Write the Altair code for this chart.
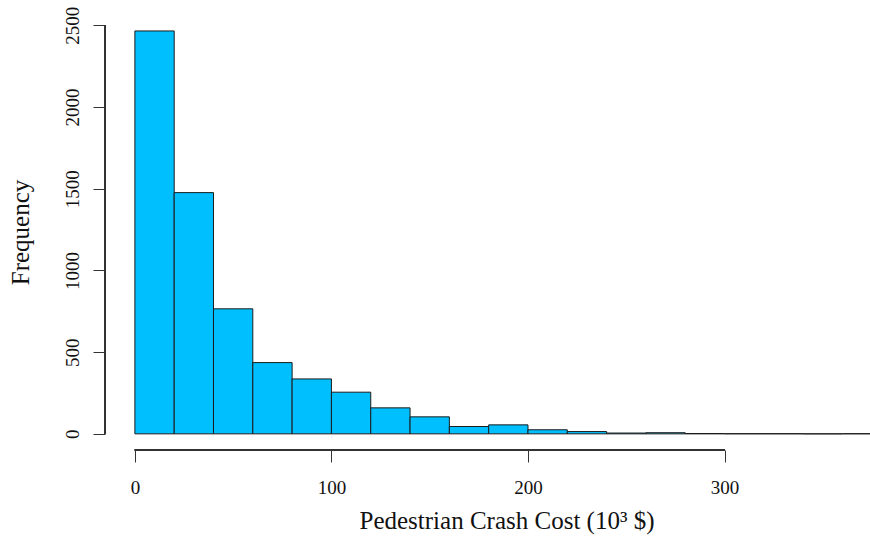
import altair as alt
import pandas as pd

# Histogram bins (10^3 $) and frequencies
bin_start = [0, 20, 40, 60, 80, 100, 120, 140, 160, 180, 200, 220, 240, 260, 280, 300, 320, 340, 360]
bin_width = 20
counts = [2465, 1476, 765, 436, 336, 255, 159, 104, 45, 55, 25, 14, 5, 7, 2, 1, 1, 0, 1]

x_ticks = [0, 100, 200, 300]
y_ticks = [0, 500, 1000, 1500, 2000, 2500]

df = pd.DataFrame({
    "start": bin_start,
    "end": [s + bin_width for s in bin_start],
    "count": counts,
})

FONT = "Liberation Serif"
W, H = 765, 436

xscale = alt.Scale(domain=[-15.2, 374], nice=False, zero=False)
yscale = alt.Scale(domain=[-98.8, 2568.8], nice=False, zero=False)

bars = alt.Chart(df).mark_rect(
    fill="#00BFFF", stroke="#1c1c1c", strokeWidth=1, clip=True
).encode(
    x=alt.X("start:Q", scale=xscale,
            axis=alt.Axis(values=x_ticks, format="d", domain=False, grid=False, tickSize=12,
                          tickColor="#333333", tickWidth=1,
                          labelFont=FONT, labelFontSize=19, labelColor="#111111",
                          labelBaseline="alphabetic", labelPadding=31,
                          labelFlush=False, labelOverlap=False,
                          title="Pedestrian Crash Cost (10³ $)",
                          titleFont=FONT, titleFontSize=25, titleFontWeight="normal",
                          titleColor="#111111", titleX=401.5, titleY=78,
                          titleAlign="center", titleBaseline="alphabetic")),
    x2="end:Q",
    y=alt.Y("count:Q", scale=yscale,
            axis=alt.Axis(values=y_ticks, format="d", domain=False, grid=False, tickSize=12,
                          tickColor="#333333", tickWidth=1,
                          labelFont=FONT, labelFontSize=19, labelColor="#111111",
                          labelAngle=270, labelAlign="center",
                          labelBaseline="alphabetic", labelPadding=15,
                          labelFlush=False, labelOverlap=False,
                          title="Frequency",
                          titleFont=FONT, titleFontSize=25, titleFontWeight="normal",
                          titleColor="#111111", titleAngle=270, titleX=-77, titleY=218,
                          titleAlign="center", titleBaseline="alphabetic")),
    y2=alt.datum(0),
)

x_axis_line = alt.Chart(df).mark_rule(color="#333333", strokeWidth=1).encode(
    x=alt.datum(x_ticks[0]), x2=alt.datum(x_ticks[-1]), y=alt.value(H)
)
y_axis_line = alt.Chart(df).mark_rule(color="#333333", strokeWidth=1).encode(
    x=alt.value(0), y=alt.datum(y_ticks[0]), y2=alt.datum(y_ticks[-1])
)

chart = alt.layer(bars, x_axis_line, y_axis_line).properties(
    width=W, height=H,
    autosize=alt.AutoSizeParams(type="none"),
    padding={"left": 105, "top": 14, "right": 0, "bottom": 94},
    background="white",
).configure_view(stroke=None)

chart.save("out.html", embed_options={"renderer": "svg", "actions": False})
